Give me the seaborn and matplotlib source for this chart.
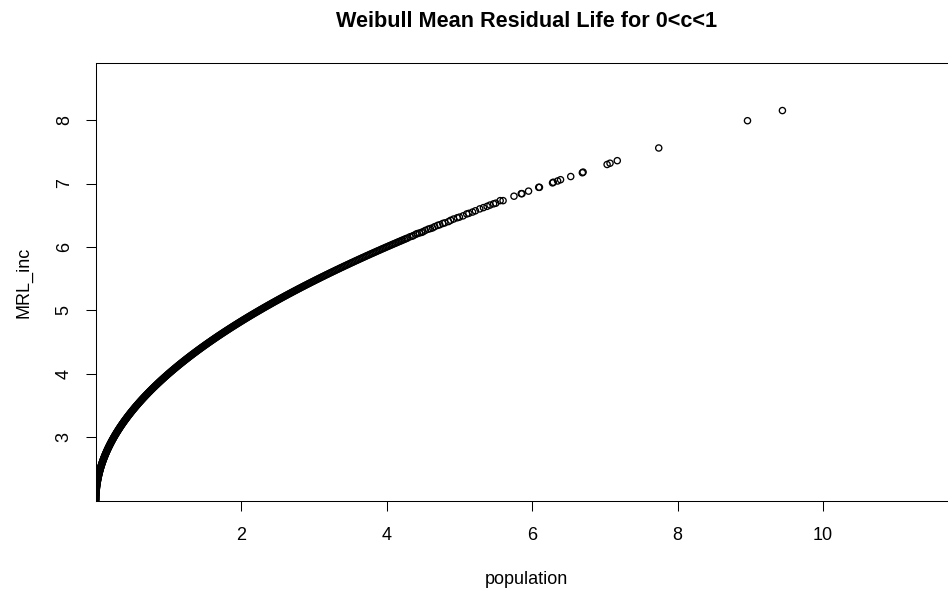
import matplotlib
matplotlib.use("Agg")
import matplotlib.pyplot as plt
import pandas as pd
import seaborn as sns

# Dense part of the sample: population values and their mean residual life
pop_dense = [
    0.0000, 0.0000, 0.0001, 0.0002, 0.0004, 0.0006, 0.0009, 0.0012, 0.0016, 0.0020,
    0.0025, 0.0030, 0.0036, 0.0042, 0.0049, 0.0056, 0.0064, 0.0072, 0.0081, 0.0090,
    0.0100, 0.0110, 0.0121, 0.0132, 0.0144, 0.0156, 0.0169, 0.0182, 0.0196, 0.0210,
    0.0225, 0.0240, 0.0256, 0.0272, 0.0289, 0.0306, 0.0324, 0.0342, 0.0361, 0.0380,
    0.0400, 0.0420, 0.0441, 0.0462, 0.0484, 0.0506, 0.0529, 0.0552, 0.0576, 0.0600,
    0.0625, 0.0650, 0.0676, 0.0702, 0.0729, 0.0756, 0.0784, 0.0812, 0.0841, 0.0870,
    0.0900, 0.0930, 0.0961, 0.0992, 0.1024, 0.1056, 0.1089, 0.1122, 0.1156, 0.1190,
    0.1225, 0.1260, 0.1296, 0.1332, 0.1369, 0.1406, 0.1444, 0.1482, 0.1521, 0.1560,
    0.1600, 0.1640, 0.1681, 0.1722, 0.1764, 0.1806, 0.1849, 0.1892, 0.1936, 0.1980,
    0.2025, 0.2070, 0.2116, 0.2162, 0.2209, 0.2256, 0.2304, 0.2352, 0.2401, 0.2450,
    0.2500, 0.2550, 0.2601, 0.2652, 0.2704, 0.2756, 0.2809, 0.2862, 0.2916, 0.2970,
    0.3025, 0.3080, 0.3136, 0.3192, 0.3249, 0.3306, 0.3364, 0.3422, 0.3481, 0.3540,
    0.3600, 0.3660, 0.3721, 0.3782, 0.3844, 0.3906, 0.3969, 0.4032, 0.4096, 0.4160,
    0.4225, 0.4290, 0.4356, 0.4422, 0.4489, 0.4556, 0.4624, 0.4692, 0.4761, 0.4830,
    0.4900, 0.4970, 0.5041, 0.5112, 0.5184, 0.5256, 0.5329, 0.5402, 0.5476, 0.5550,
    0.5625, 0.5700, 0.5776, 0.5852, 0.5929, 0.6006, 0.6084, 0.6162, 0.6241, 0.6320,
    0.6400, 0.6480, 0.6561, 0.6642, 0.6724, 0.6806, 0.6889, 0.6972, 0.7056, 0.7140,
    0.7225, 0.7310, 0.7396, 0.7482, 0.7569, 0.7656, 0.7744, 0.7832, 0.7921, 0.8010,
    0.8100, 0.8190, 0.8281, 0.8372, 0.8464, 0.8556, 0.8649, 0.8742, 0.8836, 0.8930,
    0.9025, 0.9120, 0.9216, 0.9312, 0.9409, 0.9506, 0.9604, 0.9702, 0.9801, 0.9900,
    1.0000, 1.0100, 1.0201, 1.0302, 1.0404, 1.0506, 1.0609, 1.0712, 1.0816, 1.0920,
    1.1025, 1.1130, 1.1236, 1.1342, 1.1449, 1.1556, 1.1664, 1.1772, 1.1881, 1.1990,
    1.2100, 1.2210, 1.2321, 1.2432, 1.2544, 1.2656, 1.2769, 1.2882, 1.2996, 1.3110,
    1.3225, 1.3340, 1.3456, 1.3572, 1.3689, 1.3806, 1.3924, 1.4042, 1.4161, 1.4280,
    1.4400, 1.4520, 1.4641, 1.4762, 1.4884, 1.5006, 1.5129, 1.5252, 1.5376, 1.5500,
    1.5625, 1.5750, 1.5876, 1.6002, 1.6129, 1.6256, 1.6384, 1.6512, 1.6641, 1.6770,
    1.6900, 1.7030, 1.7161, 1.7292, 1.7424, 1.7556, 1.7689, 1.7822, 1.7956, 1.8090,
    1.8225, 1.8360, 1.8496, 1.8632, 1.8769, 1.8906, 1.9044, 1.9182, 1.9321, 1.9460,
    1.9600, 1.9740, 1.9881, 2.0022, 2.0164, 2.0306, 2.0449, 2.0592, 2.0736, 2.0880,
    2.1025, 2.1170, 2.1316, 2.1462, 2.1609, 2.1756, 2.1904, 2.2052, 2.2201, 2.2350,
    2.2500, 2.2650, 2.2801, 2.2952, 2.3104, 2.3256, 2.3409, 2.3562, 2.3716, 2.3870,
    2.4025, 2.4180, 2.4336, 2.4492, 2.4649, 2.4806, 2.4964, 2.5122, 2.5281, 2.5440,
    2.5600, 2.5760, 2.5921, 2.6082, 2.6244, 2.6406, 2.6569, 2.6732, 2.6896, 2.7060,
    2.7225, 2.7390, 2.7556, 2.7722, 2.7889, 2.8056, 2.8224, 2.8392, 2.8561, 2.8730,
    2.8900, 2.9070, 2.9241, 2.9412, 2.9584, 2.9756, 2.9929, 3.0102, 3.0276, 3.0450,
    3.0625, 3.0800, 3.0976, 3.1152, 3.1329, 3.1506, 3.1684, 3.1862, 3.2041, 3.2220,
    3.2400, 3.2580, 3.2761, 3.2942, 3.3124, 3.3306, 3.3489, 3.3672, 3.3856, 3.4040,
    3.4225, 3.4410, 3.4596, 3.4782, 3.4969, 3.5156, 3.5344, 3.5532, 3.5721, 3.5910,
    3.6100, 3.6290, 3.6481, 3.6672, 3.6864, 3.7056, 3.7249, 3.7442, 3.7636, 3.7830,
    3.8025, 3.8220, 3.8416, 3.8612, 3.8809, 3.9006, 3.9204, 3.9402, 3.9601, 3.9800,
    4.0000, 4.0200, 4.0401, 4.0602, 4.0804, 4.1006, 4.1209, 4.1412, 4.1616, 4.1820,
    4.2025, 4.2230, 4.2436, 4.2642, 4.2849,
]
mrl_dense = [
    2.00, 2.01, 2.02, 2.03, 2.04, 2.05, 2.06, 2.07, 2.08, 2.09,
    2.10, 2.11, 2.12, 2.13, 2.14, 2.15, 2.16, 2.17, 2.18, 2.19,
    2.20, 2.21, 2.22, 2.23, 2.24, 2.25, 2.26, 2.27, 2.28, 2.29,
    2.30, 2.31, 2.32, 2.33, 2.34, 2.35, 2.36, 2.37, 2.38, 2.39,
    2.40, 2.41, 2.42, 2.43, 2.44, 2.45, 2.46, 2.47, 2.48, 2.49,
    2.50, 2.51, 2.52, 2.53, 2.54, 2.55, 2.56, 2.57, 2.58, 2.59,
    2.60, 2.61, 2.62, 2.63, 2.64, 2.65, 2.66, 2.67, 2.68, 2.69,
    2.70, 2.71, 2.72, 2.73, 2.74, 2.75, 2.76, 2.77, 2.78, 2.79,
    2.80, 2.81, 2.82, 2.83, 2.84, 2.85, 2.86, 2.87, 2.88, 2.89,
    2.90, 2.91, 2.92, 2.93, 2.94, 2.95, 2.96, 2.97, 2.98, 2.99,
    3.00, 3.01, 3.02, 3.03, 3.04, 3.05, 3.06, 3.07, 3.08, 3.09,
    3.10, 3.11, 3.12, 3.13, 3.14, 3.15, 3.16, 3.17, 3.18, 3.19,
    3.20, 3.21, 3.22, 3.23, 3.24, 3.25, 3.26, 3.27, 3.28, 3.29,
    3.30, 3.31, 3.32, 3.33, 3.34, 3.35, 3.36, 3.37, 3.38, 3.39,
    3.40, 3.41, 3.42, 3.43, 3.44, 3.45, 3.46, 3.47, 3.48, 3.49,
    3.50, 3.51, 3.52, 3.53, 3.54, 3.55, 3.56, 3.57, 3.58, 3.59,
    3.60, 3.61, 3.62, 3.63, 3.64, 3.65, 3.66, 3.67, 3.68, 3.69,
    3.70, 3.71, 3.72, 3.73, 3.74, 3.75, 3.76, 3.77, 3.78, 3.79,
    3.80, 3.81, 3.82, 3.83, 3.84, 3.85, 3.86, 3.87, 3.88, 3.89,
    3.90, 3.91, 3.92, 3.93, 3.94, 3.95, 3.96, 3.97, 3.98, 3.99,
    4.00, 4.01, 4.02, 4.03, 4.04, 4.05, 4.06, 4.07, 4.08, 4.09,
    4.10, 4.11, 4.12, 4.13, 4.14, 4.15, 4.16, 4.17, 4.18, 4.19,
    4.20, 4.21, 4.22, 4.23, 4.24, 4.25, 4.26, 4.27, 4.28, 4.29,
    4.30, 4.31, 4.32, 4.33, 4.34, 4.35, 4.36, 4.37, 4.38, 4.39,
    4.40, 4.41, 4.42, 4.43, 4.44, 4.45, 4.46, 4.47, 4.48, 4.49,
    4.50, 4.51, 4.52, 4.53, 4.54, 4.55, 4.56, 4.57, 4.58, 4.59,
    4.60, 4.61, 4.62, 4.63, 4.64, 4.65, 4.66, 4.67, 4.68, 4.69,
    4.70, 4.71, 4.72, 4.73, 4.74, 4.75, 4.76, 4.77, 4.78, 4.79,
    4.80, 4.81, 4.82, 4.83, 4.84, 4.85, 4.86, 4.87, 4.88, 4.89,
    4.90, 4.91, 4.92, 4.93, 4.94, 4.95, 4.96, 4.97, 4.98, 4.99,
    5.00, 5.01, 5.02, 5.03, 5.04, 5.05, 5.06, 5.07, 5.08, 5.09,
    5.10, 5.11, 5.12, 5.13, 5.14, 5.15, 5.16, 5.17, 5.18, 5.19,
    5.20, 5.21, 5.22, 5.23, 5.24, 5.25, 5.26, 5.27, 5.28, 5.29,
    5.30, 5.31, 5.32, 5.33, 5.34, 5.35, 5.36, 5.37, 5.38, 5.39,
    5.40, 5.41, 5.42, 5.43, 5.44, 5.45, 5.46, 5.47, 5.48, 5.49,
    5.50, 5.51, 5.52, 5.53, 5.54, 5.55, 5.56, 5.57, 5.58, 5.59,
    5.60, 5.61, 5.62, 5.63, 5.64, 5.65, 5.66, 5.67, 5.68, 5.69,
    5.70, 5.71, 5.72, 5.73, 5.74, 5.75, 5.76, 5.77, 5.78, 5.79,
    5.80, 5.81, 5.82, 5.83, 5.84, 5.85, 5.86, 5.87, 5.88, 5.89,
    5.90, 5.91, 5.92, 5.93, 5.94, 5.95, 5.96, 5.97, 5.98, 5.99,
    6.00, 6.01, 6.02, 6.03, 6.04, 6.05, 6.06, 6.07, 6.08, 6.09,
    6.10, 6.11, 6.12, 6.13, 6.14,
]

# Thinning part of the sample
pop_mid = [4.32, 4.35, 4.37, 4.40, 4.42, 4.45, 4.48, 4.50, 4.53, 4.57, 4.60,
           4.63, 4.66, 4.70, 4.73, 4.77, 4.80, 4.85, 4.88, 4.92, 4.97, 5.00,
           5.05, 5.10, 5.13, 5.18, 5.22, 5.28, 5.33, 5.38, 5.42, 5.47, 5.50]
mrl_mid = [6.16, 6.17, 6.18, 6.20, 6.21, 6.22, 6.23, 6.24, 6.26, 6.28, 6.29,
           6.30, 6.32, 6.34, 6.35, 6.37, 6.38, 6.40, 6.42, 6.44, 6.46, 6.47,
           6.49, 6.52, 6.53, 6.55, 6.57, 6.60, 6.62, 6.64, 6.66, 6.68, 6.69]

# Sparse upper tail
pop_tail = [5.56, 5.60, 5.75, 5.85, 5.86, 5.95, 6.09, 6.10, 6.28, 6.29, 6.35,
            6.39, 6.53, 6.69, 6.70, 7.03, 7.07, 7.17, 7.74, 8.96, 9.44]
mrl_tail = [6.73, 6.73, 6.80, 6.84, 6.84, 6.88, 6.94, 6.94, 7.01, 7.02, 7.04,
            7.06, 7.11, 7.17, 7.18, 7.30, 7.32, 7.36, 7.56, 7.99, 8.15]

x_ticks = [2, 4, 6, 8, 10]
y_ticks = [3, 4, 5, 6, 7, 8]

df = pd.DataFrame({
    "population": pop_dense + pop_mid + pop_tail,
    "MRL_inc": mrl_dense + mrl_mid + mrl_tail,
})

sns.set_style("ticks")
plt.rcParams["font.family"] = ["Liberation Sans", "DejaVu Sans"]
for key in ["text.color", "axes.labelcolor", "xtick.color", "ytick.color",
            "axes.edgecolor"]:
    plt.rcParams[key] = "black"

W, H = 948, 590
fig = plt.figure(figsize=(W / 100, H / 100), dpi=100)
left_px, right_px, top_px, bottom_px = 95.7, 957.0, 63.3, 500.7
ax = fig.add_axes([left_px / W, 1 - bottom_px / H,
                   (right_px - left_px) / W, (bottom_px - top_px) / H])

sns.scatterplot(data=df, x="population", y="MRL_inc", ax=ax, marker="o",
                s=20, facecolors="none", edgecolor="black", linewidth=0.95,
                legend=False)

ax.set_xlim(0, 11.84)
ax.set_ylim(2.0, 8.895)
ax.set_xticks(x_ticks)
ax.set_xticklabels([str(v) for v in x_ticks])
ax.set_yticks(y_ticks)
ax.set_yticklabels([str(v) for v in y_ticks])

for side in ["left", "right", "top", "bottom"]:
    ax.spines[side].set_visible(True)
    ax.spines[side].set_linewidth(0.75)
    ax.spines[side].set_color("black")

ax.tick_params(axis="both", direction="out", length=7.2, width=0.75,
               labelsize=13, color="black")
ax.tick_params(axis="x", pad=11.4)
ax.tick_params(axis="y", pad=9.3, labelrotation=90)
for lab in ax.get_yticklabels():
    lab.set_va("center")

ax.set_xlabel("population", fontsize=13)
ax.xaxis.set_label_coords(0.5, -(579 - bottom_px) / (bottom_px - top_px))
ax.xaxis.label.set_va("center")
ax.set_ylabel("MRL_inc", fontsize=13)
ax.yaxis.set_label_coords(-(left_px - 24) / (right_px - left_px), 0.5)
ax.yaxis.label.set_va("center")

ax.text(0.5, 1 + (top_px - 27) / (bottom_px - top_px),
        "Weibull Mean Residual Life for 0<c<1", transform=ax.transAxes,
        ha="center", va="baseline", fontsize=15.6, fontweight="bold")

fig.savefig("out.png", dpi=100)
